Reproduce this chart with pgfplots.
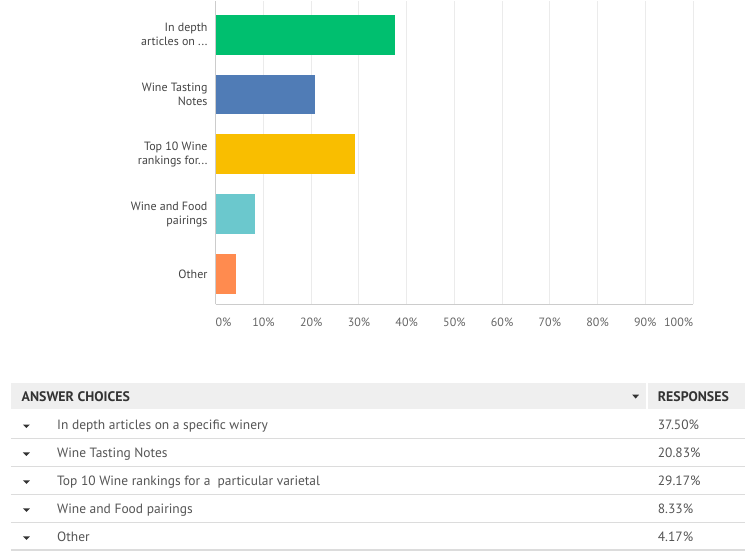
\documentclass[border=0pt]{standalone}
\usepackage{fontspec}
\setmainfont{PT Sans}
\newfontfamily\tabfont{PT Sans}
\usepackage{pgfplots}
\pgfplotsset{compat=1.18}
\definecolor{cGreen}{HTML}{00BF6F}
\definecolor{cBlue}{HTML}{507CB6}
\definecolor{cYellow}{HTML}{F9BE00}
\definecolor{cTeal}{HTML}{6BC8CD}
\definecolor{cOrange}{HTML}{FF8B4F}
\definecolor{gridc}{HTML}{EBEBEB}
\definecolor{axisc}{HTML}{CCCCCC}
\definecolor{labc}{HTML}{444444}
\definecolor{tickc}{HTML}{666666}
\definecolor{hdrbg}{HTML}{EFEFEF}
\definecolor{linec}{HTML}{DCDCDC}
\definecolor{rowtxt}{HTML}{555555}
\definecolor{hdrtxt}{HTML}{333333}
\begin{document}
\begin{tikzpicture}
\begin{scope}[x=0.75pt,y=-0.75pt]
  \fill[white] (0,0) rectangle (746,552);
  % header
  \fill[hdrbg] (11,383) rectangle (746,409.3);
  \draw[white,line width=1.5pt] (647.5,383) -- (647.5,409.3);
  \node[anchor=base west,inner sep=0pt,text=hdrtxt,font=\tabfont\fontsize{10.4}{11}\selectfont\bfseries] at (21.5,401) {ANSWER CHOICES};
  \node[anchor=base west,inner sep=0pt,text=hdrtxt,font=\tabfont\fontsize{10.4}{11}\selectfont\bfseries] at (658.5,401) {RESPONSES};
  \fill[hdrtxt] (633,394.5) -- (640,394.5) -- (636.5,398.5) -- cycle;
  % rows
  \foreach \i/\t/\p in {0/In depth articles on a specific winery/37.50\%,
                       1/Wine Tasting Notes/20.83\%,
                       2/Top 10 Wine rankings for a \ particular varietal/29.17\%,
                       3/Wine and Food pairings/8.33\%,
                       4/Other/4.17\%}{
    \pgfmathsetmacro{\yb}{429.5+28*\i}
    \node[anchor=base west,inner sep=0pt,text=rowtxt,font=\tabfont\fontsize{10.1}{11}\selectfont] at (57,\yb) {\t};
    \node[anchor=base west,inner sep=0pt,text=rowtxt,font=\tabfont\fontsize{10.1}{11}\selectfont] at (658.5,\yb) {\p};
    \fill[hdrtxt] (23,\yb-5) -- (30,\yb-5) -- (26.5,\yb-1.5) -- cycle;
  }
  \foreach \i in {0,1,2,3}{
    \draw[linec,line width=0.75pt] (11,438.3+28*\i) -- (746,438.3+28*\i);
  }
  \draw[linec,line width=1.5pt] (11,550.5) -- (746,550.5);
\end{scope}
\begin{axis}[
  at={(162pt,-228pt)}, anchor=south west,
  scale only axis, width=358.5pt, height=228pt,
  xmin=0, xmax=100, ymin=-0.5, ymax=4.567,
  xbar, bar width=30pt, bar shift=0pt,
  axis x line*=bottom, axis y line*=left,
  axis line style={axisc, line width=0.9pt, -},
  xmajorgrids, grid style={gridc, line width=0.75pt},
  major tick length=0pt,
  xtick={0,10,20,30,40,50,60,70,80,90,100},
  xticklabels={\phantom{0\%}0\%,10\%,20\%,30\%,40\%,50\%,60\%,70\%,80\%,90\%,100\%\phantom{100\%}},
  xticklabel style={font=\fontsize{9}{10}\selectfont, text=tickc, anchor=base, inner sep=0pt, yshift=-16.9pt},
  ytick={0,1,2,3,4},
  yticklabels={{Other},{Wine and Food\\pairings},{{Top 10 Wine\\rankings for...}},{Wine Tasting\\Notes},{{In depth\\articles on ...}}},
  yticklabel style={font=\fontsize{9}{10.5}\selectfont, text=labc, align=right, anchor=east, inner sep=0pt, xshift=-6pt},
  every axis plot/.append style={draw=none},
]
\addplot[fill=cOrange] coordinates {(4.17,0)};
\addplot[fill=cTeal] coordinates {(8.33,1)};
\addplot[fill=cYellow] coordinates {(29.17,2)};
\addplot[fill=cBlue] coordinates {(20.83,3)};
\addplot[fill=cGreen] coordinates {(37.50,4)};
\end{axis}
\end{tikzpicture}
\end{document}
